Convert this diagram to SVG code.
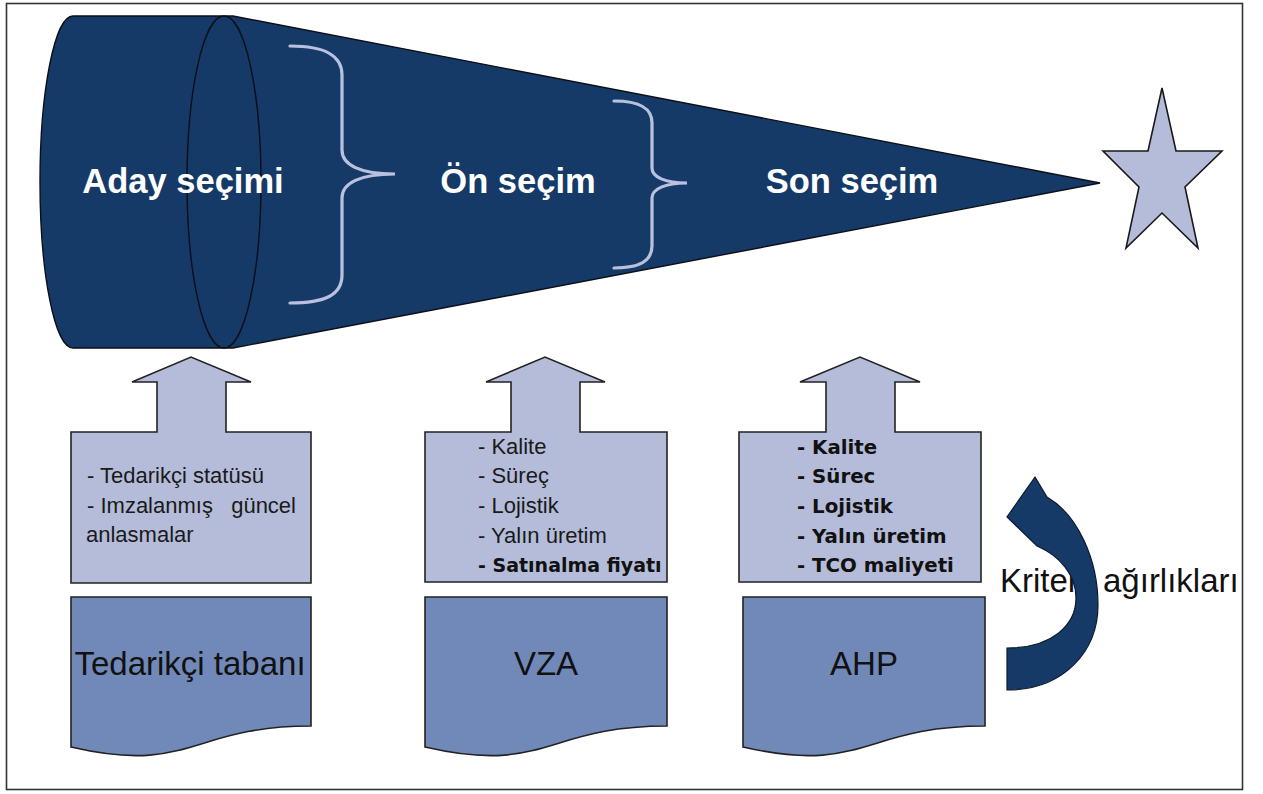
<svg xmlns="http://www.w3.org/2000/svg" width="1263" height="794" viewBox="0 0 1263 794">
  <style>
    .title { font-family: "Liberation Sans", Arial, sans-serif; font-weight: bold; font-size: 34.5px; fill: #ffffff; text-anchor: middle; }
    .big { font-family: "Liberation Sans", Arial, sans-serif; font-size: 33px; fill: #111111; }
    .item { font-family: "Liberation Sans", Arial, sans-serif; font-size: 22px; fill: #1a1a1a; }
    .itemb { font-family: "DejaVu Sans", Verdana, sans-serif; font-weight: bold; font-size: 19px; fill: #111111; }
    .itemb2 { font-family: "DejaVu Sans", Verdana, sans-serif; font-weight: bold; font-size: 19.8px; fill: #111111; }
    .panel { fill: #b4bcd9; stroke: #222222; stroke-width: 1.6; stroke-linejoin: miter; }
    .doc { fill: #7189b9; stroke: #222222; stroke-width: 1.6; }
    .brace { fill: none; stroke: #b9c1df; stroke-width: 3.2; stroke-linecap: round; }
  </style>

  <rect x="0" y="0" width="1263" height="794" fill="#ffffff"/>
  <!-- outer frame -->
  <rect x="6.5" y="3.5" width="1236" height="786" fill="none" stroke="#333333" stroke-width="1.6"/>

  <!-- funnel / cone -->
  <g id="cone">
    <path d="M73,16 L233,16 L1100,183 L233,348 L73,348 A33,166 0 0 1 73,16 Z" fill="#163a67" stroke="#0b0f18" stroke-width="1.4"/>
    <ellipse cx="224" cy="182" rx="37" ry="166" fill="none" stroke="#0b0f18" stroke-width="1.4"/>
    <text class="title" x="183" y="193">Aday seçimi</text>
    <text class="title" x="518" y="193">Ön seçim</text>
    <text class="title" x="852" y="193">Son seçim</text>
  </g>

  <!-- goal star -->
  <g id="star">
    <polygon points="1162,88 1176,151 1222,151 1185,187 1198,248 1162,213 1126,248 1139,187 1103,151 1148,151" fill="#b4bcd9" stroke="#1a1a1a" stroke-width="1.6" stroke-linejoin="miter"/>
  </g>

  <!-- stage 1 -->
  <g id="stage1-criteria">
    <path class="panel" d="M71,432 H157 V382 H132 L191,357 L251,382 H226 V432 H311 V583 H71 Z"/>
    <text class="item" x="87" y="483">- Tedarikçi statüsü</text>
    <text class="item" y="513"><tspan x="87">- Imzalanmış</tspan><tspan x="296" text-anchor="end">güncel</tspan></text>
    <text class="item" x="86" y="542">anlasmalar</text>
  </g>
  <g id="stage1-method">
    <path class="doc" d="M71,597 H311 V726 C191,726 191,775 71,747 Z"/>
    <text class="big" x="190" y="675" text-anchor="middle">Tedarikçi tabanı</text>
  </g>

  <!-- stage 2 -->
  <g id="stage2-criteria">
    <path class="panel" d="M425,432 H511 V382 H486 L545,357 L605,382 H580 V432 H667 V582 H425 Z"/>
    <text class="item" x="478" y="454">- Kalite</text>
    <text class="item" x="478" y="483">- Süreç</text>
    <text class="item" x="478" y="513">- Lojistik</text>
    <text class="item" x="478" y="543">- Yalın üretim</text>
    <text class="itemb" x="478" y="572">- Satınalma fiyatı</text>
  </g>
  <g id="stage2-method">
    <path class="doc" d="M425,597 H667 V726 C546,726 546,775 425,747 Z"/>
    <text class="big" x="546" y="675" text-anchor="middle">VZA</text>
  </g>

  <!-- stage 3 -->
  <g id="stage3-criteria">
    <path class="panel" d="M739,432 H826 V382 H800 L860,357 L920,382 H895 V432 H981 V582 H739 Z"/>
    <text class="itemb2" x="797" y="454">- Kalite</text>
    <text class="itemb2" x="797" y="483">- Sürec</text>
    <text class="itemb2" x="797" y="513">- Lojistik</text>
    <text class="itemb2" x="797" y="543">- Yalın üretim</text>
    <text class="itemb2" x="797" y="572">- TCO maliyeti</text>
  </g>
  <g id="stage3-method">
    <path class="doc" d="M743,597 H985 V726 C864,726 864,775 743,747 Z"/>
    <text class="big" x="864" y="675" text-anchor="middle">AHP</text>
  </g>

  <g id="weights-label">
    <text class="big" x="1000" y="592" word-spacing="15">Kriter ağırlıkları</text>
  </g>

  <!-- connectors: stage braces and feedback arrow -->
  <g id="connectors">
    <path class="brace" d="M290,46 C325,46 342,55 342,75 V150 C342,165 360,174 395,174 C360,174 342,183 342,198 V275 C342,295 325,303 290,303"/>
    <path class="brace" d="M614,101 C640,101 652,108 652,123 V168 C652,177 665,183 687,183 C665,183 652,189 652,198 V246 C652,261 640,268 614,268"/>
    <path d="M1035,477 L1047,497 C1078,515 1098,560 1098,605 C1098,650 1065,690 1007,690 L1007,648 C1052,648 1076,625 1076,598 C1076,575 1060,556 1037,546 L1007,517 Z" fill="#163a67" stroke="#0b1a30" stroke-width="1.2" stroke-linejoin="miter"/>
  </g>
</svg>
